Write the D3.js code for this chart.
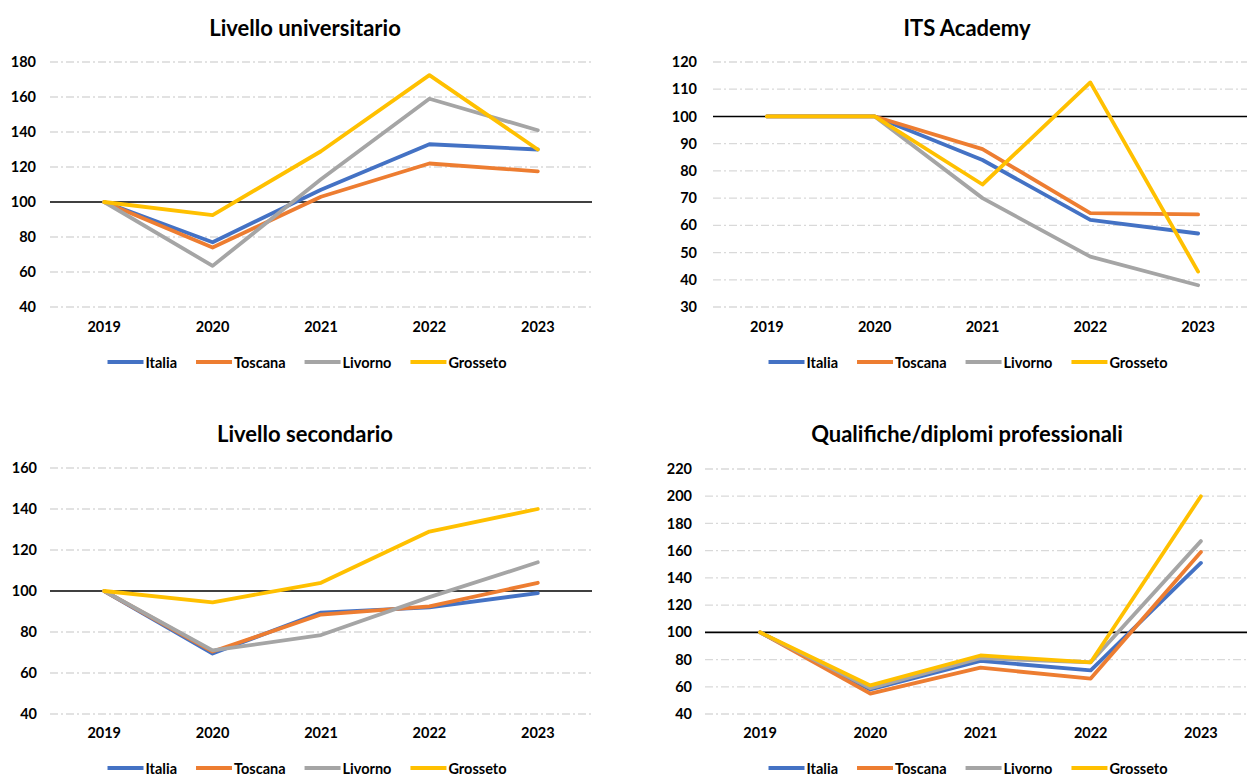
<!DOCTYPE html>
<html>
<head>
<meta charset="utf-8">
<script src="https://cdn.jsdelivr.net/npm/d3@7"></script>
<style>
  html, body { margin: 0; padding: 0; background: #fff; }
  svg { display: block; }
  text { font-family: Lato, "Open Sans", sans-serif; font-weight: bold; fill: #000; }
</style>
</head>
<body>
<svg id="chart" width="1247" height="775"></svg>
<script>
const years = ["2019", "2020", "2021", "2022", "2023"];
const seriesNames = ["Italia", "Toscana", "Livorno", "Grosseto"];
const seriesColors = ["#4472C4", "#ED7D31", "#A5A5A5", "#FFC000"];

const titles = ["Livello universitario", "ITS Academy", "Livello secondario", "Qualifiche/diplomi professionali"];

// Livello universitario
const univItalia   = [100, 77, 107, 133, 130];
const univToscana  = [100, 74, 103, 122, 117.5];
const univLivorno  = [100, 63.5, 113, 159, 141];
const univGrosseto = [100, 92.5, 129, 172.5, 130];
const univTicks = [40, 60, 80, 100, 120, 140, 160, 180];

// ITS Academy
const itsItalia   = [100, 100, 84, 62, 57];
const itsToscana  = [100, 100, 88, 64.5, 64];
const itsLivorno  = [100, 100, 70, 48.5, 38];
const itsGrosseto = [100, 100, 75, 112.5, 43];
const itsTicks = [30, 40, 50, 60, 70, 80, 90, 100, 110, 120];

// Livello secondario
const secItalia   = [100, 69.5, 89.5, 92, 99];
const secToscana  = [100, 70.5, 88.5, 92.5, 104];
const secLivorno  = [100, 71, 78.5, 97, 114];
const secGrosseto = [100, 94.5, 104, 129, 140];
const secTicks = [40, 60, 80, 100, 120, 140, 160];

// Qualifiche/diplomi professionali
const qualItalia   = [100, 58, 79, 72, 151];
const qualToscana  = [100, 55, 74, 66, 159];
const qualLivorno  = [100, 59, 81, 78, 167];
const qualGrosseto = [100, 61, 83, 78, 200];
const qualTicks = [40, 60, 80, 100, 120, 140, 160, 180, 200, 220];

const panels = [
  { title: titles[0], series: [univItalia, univToscana, univLivorno, univGrosseto], ticks: univTicks,
    x0: 50, x1: 592, yTop: 62, yBot: 307, labelX: 36, titleX: 305, titleY: 27, xLabY: 327, legY: 362, legCx: 307 },
  { title: titles[1], series: [itsItalia, itsToscana, itsLivorno, itsGrosseto], ticks: itsTicks,
    x0: 713, x1: 1252, yTop: 62, yBot: 307, labelX: 697, titleX: 967, titleY: 27, xLabY: 327, legY: 362, legCx: 968 },
  { title: titles[2], series: [secItalia, secToscana, secLivorno, secGrosseto], ticks: secTicks,
    x0: 50, x1: 592, yTop: 468, yBot: 714, labelX: 37, titleX: 305, titleY: 433, xLabY: 733, legY: 768, legCx: 307 },
  { title: titles[3], series: [qualItalia, qualToscana, qualLivorno, qualGrosseto], ticks: qualTicks,
    x0: 705, x1: 1256, yTop: 469, yBot: 714, labelX: 692, titleX: 967, titleY: 433, xLabY: 733, legY: 768, legCx: 968 }
];

const svg = d3.select("#chart");

panels.forEach(p => {
  const g = svg.append("g");
  const x = d3.scaleBand().domain(years).range([p.x0, p.x1]);
  const y = d3.scaleLinear().domain([d3.min(p.ticks), d3.max(p.ticks)]).range([p.yBot, p.yTop]);

  // title
  g.append("text").attr("x", p.titleX).attr("y", p.titleY)
    .attr("text-anchor", "middle").attr("dominant-baseline", "central")
    .style("font-size", "22px").text(p.title);

  // gridlines
  g.selectAll(".grid").data(p.ticks.filter(t => t !== 100)).join("line")
    .attr("x1", p.x0).attr("x2", p.x1)
    .attr("y1", d => y(d)).attr("y2", d => y(d))
    .attr("stroke", "#d9d9d9").attr("stroke-width", 1.3)
    .attr("stroke-dasharray", "8,3,2,3");

  // y tick labels
  const yAxis = d3.axisLeft(y).tickValues(p.ticks).tickSize(0).tickPadding(0);
  const ya = g.append("g").attr("transform", `translate(${p.labelX},0)`).call(yAxis);
  ya.select(".domain").remove();
  ya.selectAll("text").style("font-size", "14.5px").style("font-family", "Lato, sans-serif").attr("fill", "#000");

  // reference line at 100
  g.append("line").attr("x1", p.x0).attr("x2", p.x1)
    .attr("y1", y(100)).attr("y2", y(100))
    .attr("stroke", "#000").attr("stroke-width", 1.6);

  // x labels
  const xAxis = d3.axisBottom(x).tickSize(0).tickPadding(0);
  const xa = g.append("g").attr("transform", `translate(0,${p.xLabY - 5})`).call(xAxis);
  xa.select(".domain").remove();
  xa.selectAll("text").style("font-size", "14.5px").style("font-family", "Lato, sans-serif").attr("fill", "#000");

  // series lines
  const line = d3.line().x((d, i) => x(years[i]) + x.bandwidth() / 2).y(d => y(d));
  p.series.forEach((s, i) => {
    g.append("path").datum(s).attr("d", line)
      .attr("fill", "none").attr("stroke", seriesColors[i])
      .attr("stroke-width", 3.8).attr("stroke-linejoin", "round").attr("stroke-linecap", "round");
  });

  // legend
  const leg = g.append("g");
  let cx = 0;
  seriesNames.forEach((name, i) => {
    leg.append("line").attr("x1", cx).attr("x2", cx + 36).attr("y1", 0).attr("y2", 0)
      .attr("stroke", seriesColors[i]).attr("stroke-width", 3.8);
    const t = leg.append("text").attr("x", cx + 38).attr("y", 0).attr("dominant-baseline", "central")
      .style("font-size", "14.5px").text(name);
    const w = t.node().getComputedTextLength();
    cx += 38 + w + 19;
  });
  const totalW = cx - 19;
  leg.attr("transform", `translate(${p.legCx - totalW / 2},${p.legY})`);
});
</script>
</body>
</html>
